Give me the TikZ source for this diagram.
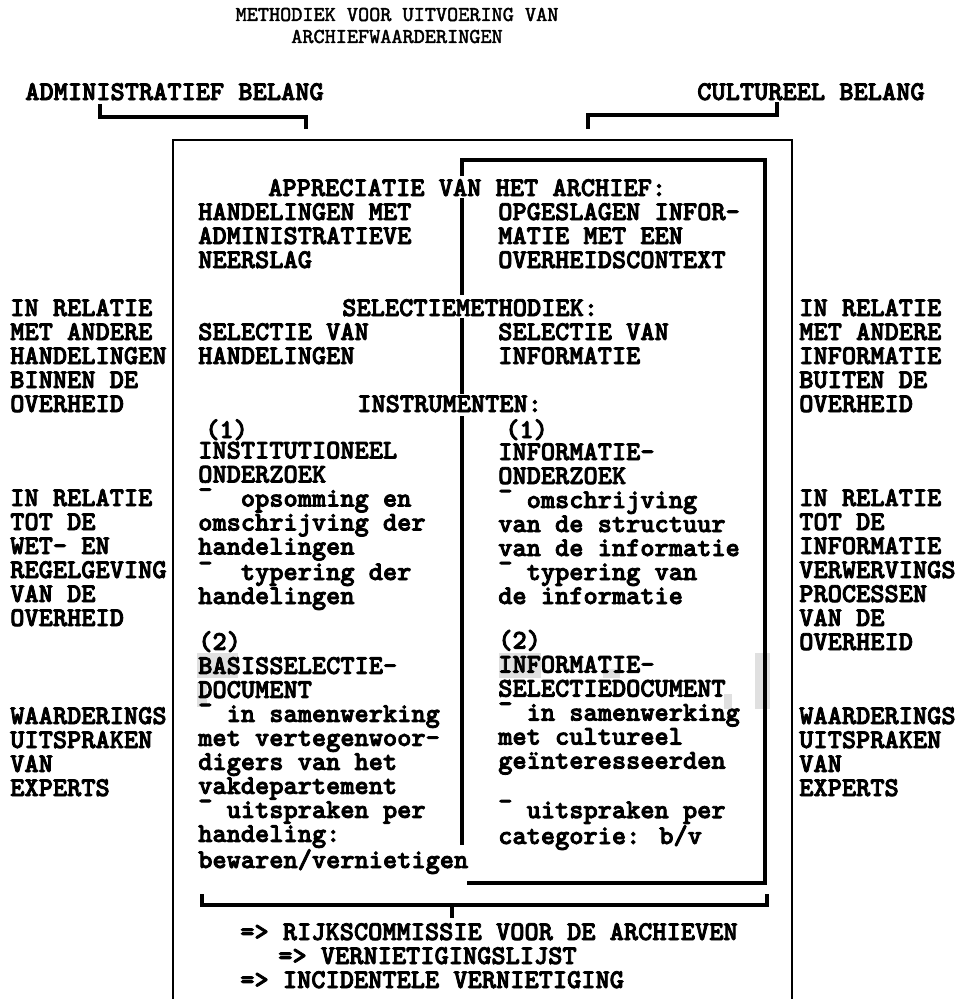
\documentclass[tikz,border=0pt]{standalone}
\usepackage{fontspec}
\usepackage{tikz}

\newfontfamily\typew{lmmonolt10-bold.otf}[FakeBold=3]
\newfontfamily\typet{lmmono10-regular.otf}[FakeBold=2]
\newcommand{\dsh}{\raisebox{.32em}{-}}

\begin{document}
\begin{tikzpicture}[x=0.75pt,y=-0.75pt,
		body/.style={anchor=base west, inner sep=0pt, align=left, font=\fontsize{20.3}{18}\selectfont\typew},
		heading/.style={anchor=base, inner sep=0pt, align=center, font=\fontsize{15.9}{16.5}\selectfont\typet},
		frame/.style={line width=2.2pt},
		inner/.style={line width=3.6pt},
		bracket/.style={line width=3pt},
		smudge/.style={fill=black!12}]
	\useasboundingbox (0,0) rectangle (959,999);
	
	\coordinate (F1) at (173,140);
	\coordinate (F2) at (792,140);
	\coordinate (I1) at (462,160);
	\coordinate (I2) at (765,160);
	\coordinate (I3) at (765,883);
	
	\fill[smudge] (197,653) rectangle (238,678);
	\fill[smudge] (197,682) rectangle (207,707);
	\fill[smudge] (499,653) rectangle (541,678);
	\fill[smudge] (603,669) rectangle (620,678);
	\fill[smudge] (724,694) rectangle (732,709);
	\fill[smudge] (755,653) rectangle (770,709);
	
	% multi-line nodes sit on the baseline of their last line
	\node[heading] (title) at (397,43) {METHODIEK VOOR UITVOERING VAN\\ARCHIEFWAARDERINGEN};
	
	\node[body] (adm) at (25,100) {ADMINISTRATIEF BELANG};
	\node[body] (cult) at (697,100) {CULTUREEL BELANG};
	
	\draw[bracket] (100,104) -- (100,117) -- (306,117) -- (306,129);
	\draw[bracket] (777,102) -- (777,115) -- (588,115) -- (588,129);
	
	\draw[frame] (173,999) -- (F1) -- (F2) -- (792,999);
	
	\draw[inner] (462,176) -- (I1) -- (I2) -- (I3) -- (467,883);
	\draw[inner] (462,198) -- (462,295);
	\draw[inner] (462,318) -- (462,394);
	\draw[inner] (462,416) -- (462,845);
	
	\node[body] (appr) at (268,196) {APPRECIATIE VAN HET ARCHIEF:};
	\node[body] (hand) at (198,268) {HANDELINGEN MET\\ADMINISTRATIEVE\\NEERSLAG};
	\node[body] (opsl) at (498,268) {OPGESLAGEN INFOR-\\MATIE MET EEN\\OVERHEIDSCONTEXT};
	
	\node[body] (selm) at (342,316) {SELECTIEMETHODIEK:};
	\node[body] (selh) at (198,364) {SELECTIE VAN\\HANDELINGEN};
	\node[body] (seli) at (498,364) {SELECTIE VAN\\INFORMATIE};
	
	\node[body] (instr) at (357,412) {INSTRUMENTEN:};
	\node[body] (oneL) at (205,438) {(1)};
	\node[body] (oneR) at (505,438) {(1)};
	\node[body] (inst) at (198,604) {INSTITUTIONEEL\\ONDERZOEK\\\dsh~~opsomming en\\omschrijving der\\handelingen\\\dsh~~typering der\\handelingen};
	\node[body] (info) at (498,604) {INFORMATIE-\\ONDERZOEK\\\dsh~omschrijving\\van de structuur\\van de informatie\\\dsh~typering van\\de informatie};
	
	\node[body] (basis) at (198,868) {(2)\\BASISSELECTIE-\\DOCUMENT\\\dsh~in samenwerking\\met vertegenwoor-\\digers van het\\vakdepartement\\\dsh~uitspraken per\\handeling:\\bewaren/vernietigen};
	\node[body] (isd) at (498,844) {(2)\\INFORMATIE-\\SELECTIEDOCUMENT\\\dsh~in samenwerking\\met cultureel\\geïnteresseerden\\[18pt]\dsh~uitspraken per\\categorie: b/v};
	
	\node[body] (relL) at (10,412) {IN RELATIE\\MET ANDERE\\HANDELINGEN\\BINNEN DE\\OVERHEID};
	\node[body] (wetL) at (10,626) {IN RELATIE\\TOT DE\\WET- EN\\REGELGEVING\\VAN DE\\OVERHEID};
	\node[body] (expL) at (10,796) {WAARDERINGS\\UITSPRAKEN\\VAN\\EXPERTS};
	
	\node[body] (relR) at (799,412) {IN RELATIE\\MET ANDERE\\INFORMATIE\\BUITEN DE\\OVERHEID};
	\node[body] (verR) at (799,650) {IN RELATIE\\TOT DE\\INFORMATIE\\VERWERVINGS\\PROCESSEN\\VAN DE\\OVERHEID};
	\node[body] (expR) at (799,796) {WAARDERINGS\\UITSPRAKEN\\VAN\\EXPERTS};
	
	\draw[bracket] (202,894) -- (202,905) -- (767,905) -- (767,894);
	\draw[bracket] (452,905) -- (452,918);
	
	\node[body] (rijks) at (240,940) {=> RIJKSCOMMISSIE VOOR DE ARCHIEVEN};
	\node[body] (lijst) at (278,964) {=> VERNIETIGINGSLIJST};
	\node[body] (incid) at (240,988) {=> INCIDENTELE VERNIETIGING};
\end{tikzpicture}
\end{document}
